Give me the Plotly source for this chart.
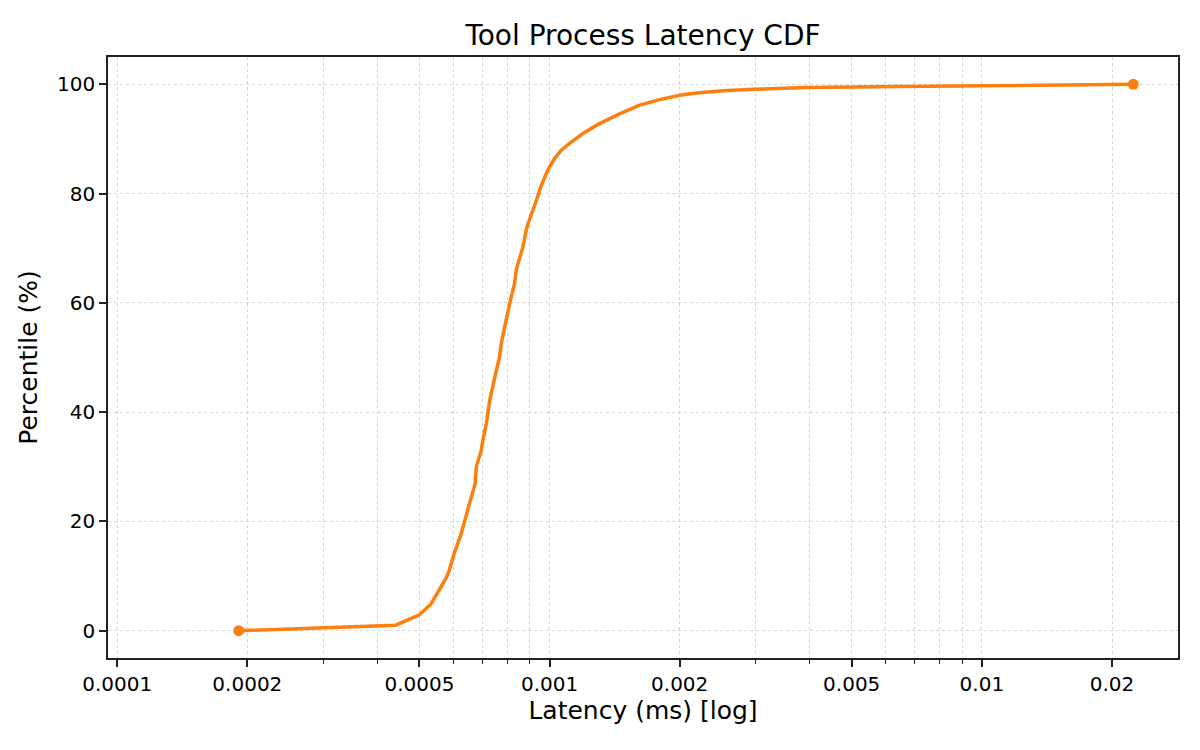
import plotly.graph_objects as go

# latency (ms) vs cumulative percentile
latency_ms = [
    0.000191, 0.000441, 0.000500, 0.000532, 0.000577, 0.000585, 0.000600,
    0.000625, 0.000653, 0.000673, 0.000677, 0.000695, 0.000701, 0.000714,
    0.000727, 0.000750, 0.000753, 0.000766, 0.000773, 0.000787, 0.000798,
    0.000815, 0.000830, 0.000837, 0.000849, 0.000867, 0.000883, 0.000891,
    0.000932, 0.000957, 0.000983, 0.001000, 0.001027, 0.001064, 0.001112,
    0.001194, 0.001305, 0.001452, 0.001616, 0.001797, 0.002000, 0.002186,
    0.002519, 0.002955, 0.003927, 0.005600, 0.006460, 0.022400,
]
percentile = [
    0.0, 1.0, 2.9, 4.9, 9.7, 10.8, 13.8,
    17.8, 23.3, 26.9, 30.0, 33.0, 34.8, 37.9,
    42.1, 46.4, 47.6, 50.0, 52.5, 55.5, 58.0,
    61.0, 63.5, 65.9, 67.7, 70.1, 73.2, 74.4,
    78.7, 81.5, 83.7, 84.9, 86.4, 87.9, 89.2,
    91.0, 92.8, 94.6, 96.2, 97.2, 98.0, 98.4,
    98.8, 99.1, 99.4, 99.6, 99.6, 100.0,
]

major_ticks = [0.0001, 0.0002, 0.0005, 0.001, 0.002, 0.005, 0.01, 0.02]
major_labels = ["0.0001", "0.0002", "0.0005", "0.001", "0.002", "0.005", "0.01", "0.02"]
minor_ticks = [0.0003, 0.0004, 0.0006, 0.0007, 0.0008, 0.0009,
               0.003, 0.004, 0.006, 0.007, 0.008, 0.009]
y_ticks = [0, 20, 40, 60, 80, 100]

orange = "#ff7f0e"
font = "DejaVu Sans"

fig = go.Figure()
fig.add_trace(go.Scatter(
    x=latency_ms, y=percentile, mode="lines",
    line=dict(color=orange, width=3.5),
    showlegend=False,
))
# markers only at the first and last points
fig.add_trace(go.Scatter(
    x=[latency_ms[0], latency_ms[-1]], y=[percentile[0], percentile[-1]],
    mode="markers", marker=dict(color=orange, size=11),
    showlegend=False,
))

grid = dict(showgrid=True, gridcolor="#d4d4d4", griddash="dot", gridwidth=1.2)

# the page puts the plot 8px in from the top-left corner, margins allow for that
fig.update_layout(
    width=1200, height=750,
    margin=dict(l=100, r=30, t=49, b=100),
    paper_bgcolor="white", plot_bgcolor="white",
    font=dict(family=font, color="black", size=20),
    title=dict(text="Tool Process Latency CDF", x=0.5, xref="paper",
               y=1 - 27 / 750, yref="container", yanchor="middle",
               font=dict(size=28)),
    xaxis=dict(
        type="log", range=[-4.0213, -1.5463],
        tickmode="array", tickvals=major_ticks, ticktext=major_labels,
        ticks="outside", ticklen=7, tickwidth=1.6, tickcolor="#222",
        showline=True, linecolor="#222", linewidth=1.6, mirror=True,
        zeroline=False,
        title=dict(text="Latency (ms) [log]", font=dict(size=25), standoff=4),
        minor=dict(tickmode="array", tickvals=minor_ticks, ticks="outside",
                   ticklen=4, tickwidth=1.2, tickcolor="#222", **grid),
        **grid,
    ),
    yaxis=dict(
        range=[-5, 105],
        tickmode="array", tickvals=y_ticks,
        ticks="outside", ticklen=7, tickwidth=1.6, tickcolor="#222",
        showline=True, linecolor="#222", linewidth=1.6, mirror=True,
        zeroline=False,
        title=dict(text="Percentile (%)", font=dict(size=25), standoff=12),
        **grid,
    ),
)

fig.write_html("out.html")
